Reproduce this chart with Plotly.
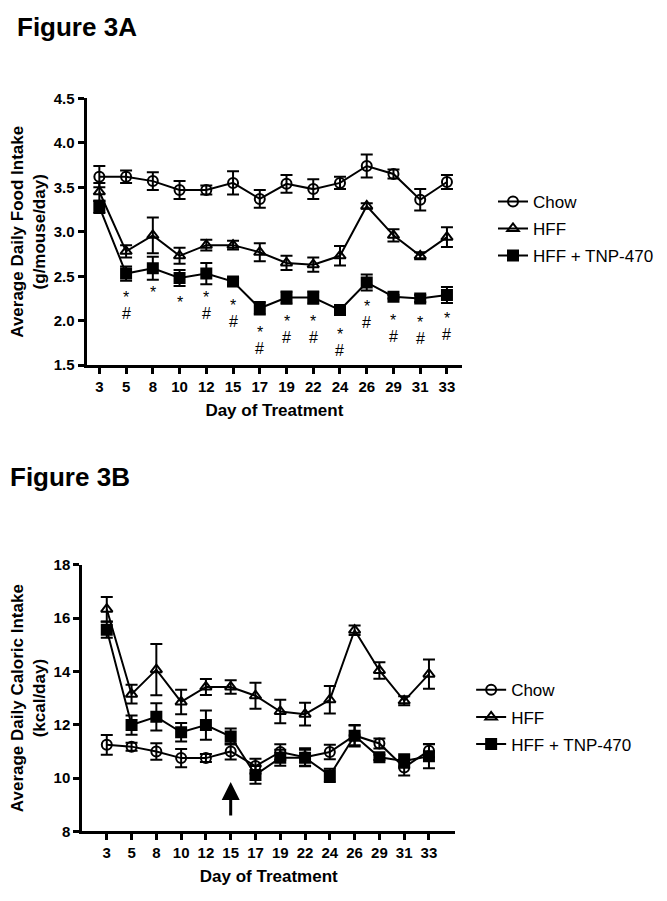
import plotly.graph_objects as go

# day labels on the x axis (same for both panels)
days = [3, 5, 8, 10, 12, 15, 17, 19, 22, 24, 26, 29, 31, 33]

# Figure 3A - average daily food intake (g/mouse/day)
chow_a = [3.62, 3.62, 3.57, 3.47, 3.47, 3.55, 3.37, 3.54, 3.48, 3.55, 3.74, 3.65, 3.36, 3.56]
chow_a_err = [0.12, 0.07, 0.10, 0.10, 0.05, 0.13, 0.10, 0.10, 0.11, 0.07, 0.13, 0.05, 0.12, 0.08]
hff_a = [3.45, 2.78, 2.96, 2.73, 2.85, 2.85, 2.77, 2.65, 2.63, 2.73, 3.29, 2.96, 2.73, 2.94]
hff_a_err = [0.10, 0.07, 0.20, 0.09, 0.06, 0.05, 0.10, 0.08, 0.08, 0.11, 0.03, 0.07, 0.04, 0.11]
tnp_a = [3.28, 2.53, 2.59, 2.48, 2.53, 2.44, 2.14, 2.26, 2.26, 2.12, 2.43, 2.27, 2.25, 2.29]
tnp_a_err = [0.07, 0.08, 0.13, 0.09, 0.12, 0.04, 0.07, 0.07, 0.07, 0.05, 0.09, 0.02, 0.04, 0.09]
star_a = ["", "*", "*", "*", "*", "*", "*", "*", "*", "*", "*", "*", "*", "*"]
hash_a = ["", "#", "", "", "#", "#", "#", "#", "#", "#", "#", "#", "#", "#"]

# Figure 3B - average daily caloric intake (kcal/day)
chow_b = [11.25, 11.18, 11.0, 10.75, 10.75, 11.0, 10.45, 10.98, 10.78, 10.98, 11.6, 11.3, 10.4, 11.03]
chow_b_err = [0.37, 0.15, 0.31, 0.34, 0.15, 0.30, 0.28, 0.29, 0.34, 0.27, 0.37, 0.19, 0.30, 0.25]
hff_b = [16.34, 13.15, 14.07, 12.86, 13.42, 13.42, 13.09, 12.5, 12.4, 12.94, 15.55, 14.04, 12.9, 13.9]
hff_b_err = [0.46, 0.35, 0.96, 0.46, 0.30, 0.25, 0.49, 0.44, 0.43, 0.52, 0.18, 0.31, 0.17, 0.55]
tnp_b = [15.57, 11.99, 12.3, 11.72, 11.99, 11.56, 10.12, 10.76, 10.76, 10.1, 11.59, 10.78, 10.64, 10.82]
tnp_b_err = [0.30, 0.36, 0.51, 0.35, 0.55, 0.30, 0.33, 0.30, 0.30, 0.25, 0.40, 0.10, 0.25, 0.45]
arrow_day = 15

FONT = "Arial, Liberation Sans, sans-serif"
# the page body keeps its default 8px margin, so the figure is 16px smaller
W, H = 651, 885
xs = list(range(len(days)))

groups = [
    ("Chow", "circle-open"),
    ("HFF", "triangle-up-open"),
    ("HFF + TNP-470", "square"),
]


def px_x(v):
    return v / W


def px_y(v):
    return 1 - v / H


def add_panel(fig, series, xref, yref, legend):
    """Add the three groups of one panel."""
    for (name, symbol), (vals, errs) in zip(groups, series):
        fig.add_trace(go.Scatter(
            x=xs, y=vals, name=name,
            mode="lines+markers",
            line=dict(color="black", width=2),
            marker=dict(symbol=symbol, size=10, color="black",
                        line=dict(color="black", width=2)),
            error_y=dict(type="data", array=errs, color="black",
                         thickness=2, width=6),
            xaxis=xref, yaxis=yref, legend=legend,
            legendgroup=legend + name,
        ))


def axis_style(**kw):
    d = dict(showline=True, linewidth=3, linecolor="black",
             ticks="outside", ticklen=6, tickwidth=2.5, tickcolor="black",
             showgrid=False, zeroline=False,
             tickfont=dict(family=FONT, size=15, color="black", weight="bold"))
    d.update(kw)
    return d


fig = go.Figure()
add_panel(fig, [(chow_a, chow_a_err), (hff_a, hff_a_err), (tnp_a, tnp_a_err)],
          "x", "y", "legend")
add_panel(fig, [(chow_b, chow_b_err), (hff_b, hff_b_err), (tnp_b, tnp_b_err)],
          "x2", "y2", "legend2")

title_font = dict(family=FONT, size=17, color="black", weight="bold")
legend_font = dict(family=FONT, size=17, color="black")

fig.update_layout(
    width=W, height=H,
    margin=dict(l=0, r=0, t=0, b=0),
    paper_bgcolor="white", plot_bgcolor="white",
    font=dict(family=FONT, color="black"),
    xaxis=axis_style(domain=[px_x(79), px_x(457)], anchor="y",
                     range=[-0.48, 13.57], tickvals=xs, ticktext=[str(d) for d in days],
                     title=dict(text="Day of Treatment", font=title_font, standoff=10)),
    yaxis=axis_style(domain=[px_y(355), px_y(83)], anchor="x",
                     range=[1.5, 4.5], dtick=0.5, tickformat=".1f",
                     title=dict(text="Average Daily Food Intake<br>(g/mouse/day)",
                                font=title_font, standoff=4)),
    xaxis2=axis_style(domain=[px_x(74.7), px_x(450)], anchor="y2",
                      range=[-0.99, 14.06], tickvals=xs, ticktext=[str(d) for d in days],
                      title=dict(text="Day of Treatment", font=title_font, standoff=10)),
    yaxis2=axis_style(domain=[px_y(830.3), px_y(558.7)], anchor="x2",
                      range=[8, 18], dtick=2,
                      title=dict(text="Average Daily Caloric Intake<br>(kcal/day)",
                                 font=title_font, standoff=4)),
    legend=dict(x=px_x(488), y=px_y(216), xanchor="left", yanchor="middle",
                font=legend_font, itemwidth=30, bgcolor="rgba(0,0,0,0)",
                traceorder="grouped", tracegroupgap=2),
    legend2=dict(x=px_x(466), y=px_y(714), xanchor="left", yanchor="middle",
                 font=legend_font, itemwidth=30, bgcolor="rgba(0,0,0,0)",
                 traceorder="grouped", tracegroupgap=2),
)

# panel titles
fig.add_annotation(text="Figure 3A", xref="paper", yref="paper",
                   x=px_x(7), y=px_y(10), xanchor="left", yanchor="middle",
                   showarrow=False, font=dict(family=FONT, size=26, color="black", weight="bold"))
fig.add_annotation(text="Figure 3B", xref="paper", yref="paper",
                   x=0, y=px_y(469), xanchor="left", yanchor="middle",
                   showarrow=False, font=dict(family=FONT, size=26, color="black", weight="bold"))

# significance marks under the TNP-470 points
for i, (s, h) in enumerate(zip(star_a, hash_a)):
    if s:
        fig.add_annotation(text=s, x=i, y=tnp_a[i], xref="x", yref="y",
                           yshift=-24, showarrow=False,
                           font=dict(family=FONT, size=16, color="black"))
    if h:
        fig.add_annotation(text=h, x=i, y=tnp_a[i], xref="x", yref="y",
                           yshift=-40, showarrow=False,
                           font=dict(family=FONT, size=16, color="black"))

# arrow marking the start of TNP-470 treatment
ai = days.index(arrow_day)
fig.add_annotation(x=ai, y=9.85, xref="x2", yref="y2", text="",
                   showarrow=True, ax=0, ay=35, arrowhead=2, arrowsize=1.2,
                   arrowwidth=3, arrowcolor="black")

fig.write_html("out.html")
